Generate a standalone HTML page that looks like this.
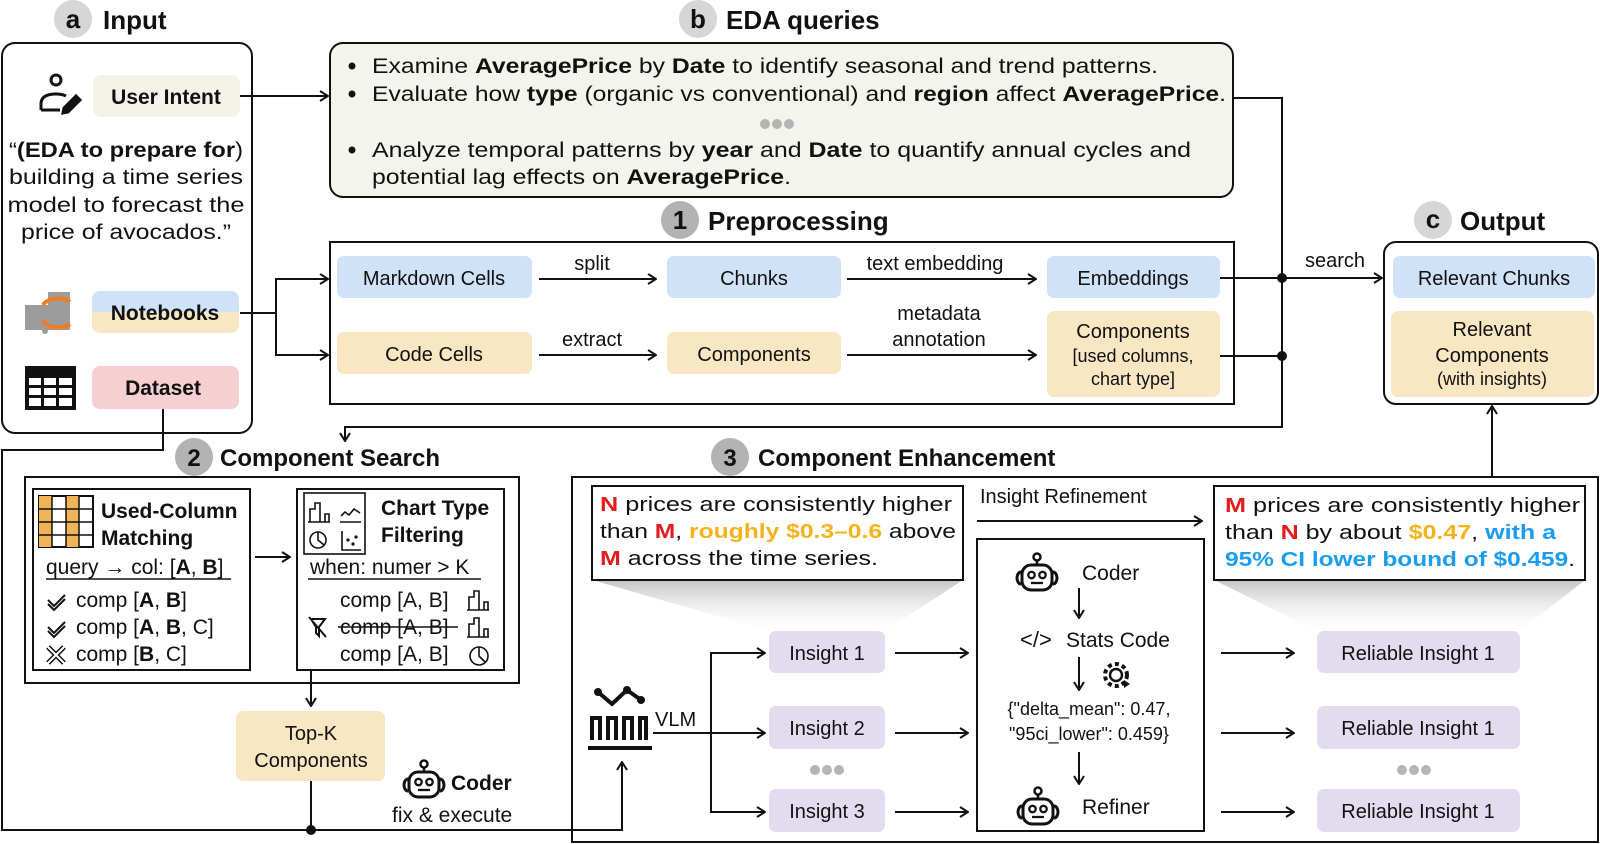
<!DOCTYPE html>
<html><head><meta charset="utf-8">
<style>
html,body{margin:0;padding:0;background:#fff;}
svg{display:block;font-family:"Liberation Sans",Arial,sans-serif;}
.b{font-weight:bold}
</style></head>
<body>
<svg width="1600" height="844" viewBox="0 0 1600 844" xmlns="http://www.w3.org/2000/svg">
<defs>
<marker id="ar" viewBox="0 0 10 12" refX="9" refY="6" markerWidth="10" markerHeight="12" markerUnits="userSpaceOnUse" orient="auto">
<path d="M1,1 L9,6 L1,11" fill="none" stroke="#111" stroke-width="2"/>
</marker>
<linearGradient id="sh" x1="0" y1="0" x2="0" y2="1">
<stop offset="0" stop-color="#c4c4c4"/><stop offset="1" stop-color="#fff" stop-opacity="0.2"/>
</linearGradient>
<linearGradient id="nb" x1="0" y1="0" x2="0" y2="1">
<stop offset="0.5" stop-color="#cfe2f8"/><stop offset="0.5" stop-color="#f9e6c3"/>
</linearGradient>
<g id="robot">
<circle cx="0" cy="-17" r="3.5" fill="none" stroke="#111" stroke-width="2.5"/>
<line x1="0" y1="-13" x2="0" y2="-9" stroke="#111" stroke-width="2.5"/>
<rect x="-15" y="-9" width="30" height="25" rx="9" fill="none" stroke="#111" stroke-width="3"/>
<path d="M-16,-2 a4,6 0 0,0 0,12 M16,-2 a4,6 0 0,1 0,12" fill="none" stroke="#111" stroke-width="3"/>
<circle cx="-5.5" cy="1" r="3.2" fill="none" stroke="#111" stroke-width="2.3"/>
<circle cx="5.5" cy="1" r="3.2" fill="none" stroke="#111" stroke-width="2.3"/>
<line x1="-6" y1="9" x2="6" y2="9" stroke="#111" stroke-width="2.3"/>
</g>
</defs>

<g stroke="#111" stroke-width="2" fill="none">
<rect x="2" y="43" width="250" height="390" rx="13"/>
<rect x="330" y="43" width="903" height="154" rx="13" fill="#f4f4ee"/>
<rect x="330" y="242" width="904" height="162"/>
<rect x="1384" y="242" width="214" height="162" rx="12"/>
<rect x="25" y="477" width="494" height="206"/>
<rect x="33" y="489" width="217" height="181"/>
<rect x="297" y="489" width="207" height="181"/>
<rect x="572" y="477" width="1026" height="365"/>
<rect x="977" y="539" width="227" height="292"/>
</g>

<polygon points="592,580 963,580 885,631 769,631" fill="url(#sh)"/>
<polygon points="1214,580 1585,580 1520,631 1317,631" fill="url(#sh)"/>
<rect x="592" y="486" width="371" height="94" fill="#fff" stroke="#111" stroke-width="2"/>
<rect x="1214" y="486" width="371" height="94" fill="#fff" stroke="#111" stroke-width="2"/>

<rect x="93" y="75" width="147" height="42" rx="8" fill="#f3f3ea"/>
<rect x="92" y="291" width="147" height="42" rx="8" fill="url(#nb)"/>
<rect x="92" y="366" width="147" height="43" rx="8" fill="#f5cfd2"/>
<rect x="337" y="256" width="195" height="42" rx="7" fill="#cfe2f8"/>
<rect x="667" y="256" width="174" height="42" rx="7" fill="#cfe2f8"/>
<rect x="1047" y="256" width="173" height="42" rx="7" fill="#cfe2f8"/>
<rect x="337" y="332" width="195" height="42" rx="7" fill="#f9e6c3"/>
<rect x="667" y="332" width="174" height="42" rx="7" fill="#f9e6c3"/>
<rect x="1047" y="311" width="173" height="86" rx="7" fill="#f9e6c3"/>
<rect x="1393" y="256" width="202" height="42" rx="7" fill="#cfe2f8"/>
<rect x="1391" y="311" width="203" height="86" rx="7" fill="#f9e6c3"/>
<rect x="236" y="711" width="149" height="70" rx="7" fill="#f9e6c3"/>
<g fill="#e3dcef">
<rect x="769" y="631" width="116" height="42" rx="7"/>
<rect x="769" y="706" width="116" height="43" rx="7"/>
<rect x="769" y="789" width="116" height="43" rx="7"/>
<rect x="1317" y="631" width="203" height="42" rx="7"/>
<rect x="1317" y="706" width="203" height="43" rx="7"/>
<rect x="1317" y="789" width="203" height="43" rx="7"/>
</g>

<g stroke="#111" stroke-width="2" fill="none">
<line x1="240" y1="96" x2="328" y2="96" marker-end="url(#ar)"/>
<polyline points="240,313 276,313 276,279 328,279" marker-end="url(#ar)"/>
<polyline points="276,313 276,355 328,355" marker-end="url(#ar)"/>
<line x1="539" y1="279" x2="656" y2="279" marker-end="url(#ar)"/>
<line x1="847" y1="279" x2="1036" y2="279" marker-end="url(#ar)"/>
<line x1="539" y1="355" x2="656" y2="355" marker-end="url(#ar)"/>
<line x1="847" y1="355" x2="1036" y2="355" marker-end="url(#ar)"/>
<polyline points="1233,98 1282,98 1282,427 345,427 345,441" marker-end="url(#ar)"/>
<line x1="1220" y1="278" x2="1282" y2="278"/>
<line x1="1220" y1="356" x2="1282" y2="356"/>
<line x1="1282" y1="278" x2="1382" y2="278" marker-end="url(#ar)"/>
<line x1="1492" y1="477" x2="1492" y2="406" marker-end="url(#ar)"/>
<polyline points="163,409 163,450 2,450 2,830 622,830 622,762" marker-end="url(#ar)"/>
<line x1="311" y1="781" x2="311" y2="830"/>
<line x1="311" y1="670" x2="311" y2="706" marker-end="url(#ar)"/>
<line x1="255" y1="557" x2="290" y2="557" marker-end="url(#ar)"/>
<line x1="653" y1="733" x2="765" y2="733" marker-end="url(#ar)"/>
<polyline points="711,812 711,653 765,653" marker-end="url(#ar)"/>
<polyline points="711,733 711,812 765,812" marker-end="url(#ar)"/>
<line x1="895" y1="653" x2="968" y2="653" marker-end="url(#ar)"/>
<line x1="895" y1="733" x2="968" y2="733" marker-end="url(#ar)"/>
<line x1="895" y1="812" x2="968" y2="812" marker-end="url(#ar)"/>
<line x1="1221" y1="653" x2="1294" y2="653" marker-end="url(#ar)"/>
<line x1="1221" y1="733" x2="1294" y2="733" marker-end="url(#ar)"/>
<line x1="1221" y1="812" x2="1294" y2="812" marker-end="url(#ar)"/>
<line x1="977" y1="521" x2="1202" y2="521" marker-end="url(#ar)"/>
<line x1="1079" y1="588" x2="1079" y2="618" marker-end="url(#ar)"/>
<line x1="1079" y1="657" x2="1079" y2="690" marker-end="url(#ar)"/>
<line x1="1079" y1="752" x2="1079" y2="784" marker-end="url(#ar)"/>
</g>
<circle cx="1282" cy="278" r="5" fill="#111"/>
<circle cx="1282" cy="356" r="5" fill="#111"/>
<circle cx="311" cy="830" r="5" fill="#111"/>

<circle cx="73" cy="19" r="19" fill="#d6d6d6"/>
<circle cx="698" cy="19" r="19" fill="#d6d6d6"/>
<circle cx="1433" cy="220" r="19" fill="#d6d6d6"/>
<circle cx="680" cy="220" r="19" fill="#b3b3b3"/>
<circle cx="194" cy="457" r="19" fill="#b3b3b3"/>
<circle cx="730" cy="457" r="19" fill="#b3b3b3"/>
<g font-weight="bold" font-size="26" fill="#111">
<text x="73" y="28" text-anchor="middle">a</text>
<text x="103" y="29">Input</text>
<text x="698" y="28" text-anchor="middle">b</text>
<text x="726" y="29">EDA queries</text>
<text x="680" y="229" text-anchor="middle">1</text>
<text x="708" y="230">Preprocessing</text>
<text x="1433" y="228" text-anchor="middle">c</text>
<text x="1460" y="230">Output</text>
<text x="194" y="466" text-anchor="middle" font-size="24">2</text>
<text x="220" y="466" font-size="24">Component Search</text>
<text x="730" y="466" text-anchor="middle" font-size="24">3</text>
<text x="758" y="466" font-size="24">Component Enhancement</text>
</g>

<g fill="#111" font-size="21">
<text x="166" y="104" text-anchor="middle" class="b">User Intent</text>
<text x="126" y="157" text-anchor="middle" textLength="234" lengthAdjust="spacingAndGlyphs">“<tspan class="b">(EDA to prepare for</tspan>)</text>
<text x="126" y="184" text-anchor="middle" textLength="234" lengthAdjust="spacingAndGlyphs">building a time series</text>
<text x="126" y="212" text-anchor="middle" textLength="237" lengthAdjust="spacingAndGlyphs">model to forecast the</text>
<text x="126" y="239" text-anchor="middle" textLength="210" lengthAdjust="spacingAndGlyphs">price of avocados.”</text>
<text x="165" y="320" text-anchor="middle" class="b">Notebooks</text>
<text x="163" y="395" text-anchor="middle" class="b">Dataset</text>
</g>
<g stroke="#111" stroke-width="3" fill="none">
<circle cx="56" cy="80" r="5"/>
<path d="M41,110 L41,104 Q41,94 56,94 Q62,94 66,96 M41,110 L60,110"/>
<path d="M64,108 L76,96 L80,100 L68,112 L63,113 Z" fill="#111"/>
</g>
<g>
<rect x="25" y="305" width="45" height="25" fill="#9c9c9c"/>
<rect x="48" y="292" width="22" height="15" fill="#9c9c9c"/>
<path d="M43,305 A16,10 0 0,1 70,302" stroke="#f07b22" stroke-width="4" fill="none"/>
<path d="M43,321 A16,10 0 0,0 70,324" stroke="#f07b22" stroke-width="4" fill="none"/>
<circle cx="45" cy="331" r="3" fill="#9c9c9c"/>
</g>
<g>
<rect x="25" y="366" width="51" height="44" fill="#111"/>
<g fill="#fff">
<rect x="29" y="378" width="12" height="7"/><rect x="44" y="378" width="12" height="7"/><rect x="59" y="378" width="13" height="7"/>
<rect x="29" y="388" width="12" height="7"/><rect x="44" y="388" width="12" height="7"/><rect x="59" y="388" width="13" height="7"/>
<rect x="29" y="398" width="12" height="8"/><rect x="44" y="398" width="12" height="8"/><rect x="59" y="398" width="13" height="8"/>
</g></g>

<g fill="#111" font-size="21">
<circle cx="352" cy="66" r="3.5"/><circle cx="352" cy="94" r="3.5"/><circle cx="352" cy="150" r="3.5"/>
<text x="372" y="73" textLength="786" lengthAdjust="spacingAndGlyphs">Examine <tspan class="b">AveragePrice</tspan> by <tspan class="b">Date</tspan> to identify seasonal and trend patterns.</text>
<text x="372" y="101" textLength="854" lengthAdjust="spacingAndGlyphs">Evaluate how <tspan class="b">type</tspan> (organic vs conventional) and <tspan class="b">region</tspan> affect <tspan class="b">AveragePrice</tspan>.</text>
<text x="372" y="157" textLength="819" lengthAdjust="spacingAndGlyphs">Analyze temporal patterns by <tspan class="b">year</tspan> and <tspan class="b">Date</tspan> to quantify annual cycles and</text>
<text x="372" y="184" textLength="419" lengthAdjust="spacingAndGlyphs">potential lag effects on <tspan class="b">AveragePrice</tspan>.</text>
</g>
<g fill="#b5b5b5">
<circle cx="765" cy="124" r="5"/><circle cx="777" cy="124" r="5"/><circle cx="789" cy="124" r="5"/>
<circle cx="815" cy="770" r="5"/><circle cx="827" cy="770" r="5"/><circle cx="839" cy="770" r="5"/>
<circle cx="1402" cy="770" r="5"/><circle cx="1414" cy="770" r="5"/><circle cx="1426" cy="770" r="5"/>
</g>

<g fill="#111" font-size="20" text-anchor="middle">
<text x="434" y="285">Markdown Cells</text>
<text x="754" y="285">Chunks</text>
<text x="1133" y="285">Embeddings</text>
<text x="434" y="361">Code Cells</text>
<text x="754" y="361">Components</text>
<text x="1133" y="338">Components</text>
<text x="1133" y="362" font-size="18">[used columns,</text>
<text x="1133" y="385" font-size="18">chart type]</text>
<text x="592" y="270">split</text>
<text x="935" y="270">text embedding</text>
<text x="592" y="346">extract</text>
<text x="939" y="320">metadata</text>
<text x="939" y="346">annotation</text>
<text x="1335" y="267">search</text>
<text x="1494" y="285">Relevant Chunks</text>
<text x="1492" y="336">Relevant</text>
<text x="1492" y="362">Components</text>
<text x="1492" y="385" font-size="18">(with insights)</text>
<text x="311" y="740">Top-K</text>
<text x="311" y="767">Components</text>
</g>

<g>
<rect x="39" y="496" width="54" height="51" fill="#fff" stroke="#111" stroke-width="2"/>
<rect x="39" y="496" width="13" height="51" fill="#eeb457"/>
<rect x="66" y="496" width="13" height="51" fill="#eeb457"/>
<g stroke="#111" stroke-width="1.5">
<line x1="52" y1="496" x2="52" y2="547"/><line x1="66" y1="496" x2="66" y2="547"/><line x1="79" y1="496" x2="79" y2="547"/>
<line x1="39" y1="509" x2="93" y2="509"/><line x1="39" y1="522" x2="93" y2="522"/><line x1="39" y1="535" x2="93" y2="535"/>
</g>
</g>
<g fill="#111" font-size="21">
<text x="101" y="518" class="b">Used-Column</text>
<text x="101" y="545" class="b">Matching</text>
<text x="46" y="574">query → col: [<tspan class="b">A</tspan>, <tspan class="b">B</tspan>]</text>
<text x="76" y="607">comp [<tspan class="b">A</tspan>, <tspan class="b">B</tspan>]</text>
<text x="76" y="634">comp [<tspan class="b">A</tspan>, <tspan class="b">B</tspan>, C]</text>
<text x="76" y="661">comp [<tspan class="b">B</tspan>, C]</text>
<text x="381" y="515" class="b">Chart Type</text>
<text x="381" y="542" class="b">Filtering</text>
<text x="310" y="574">when: numer &gt; K</text>
<text x="340" y="607">comp [A, B]</text>
<text x="340" y="634">comp [A, B]</text>
<text x="340" y="661">comp [A, B]</text>
</g>
<g stroke="#111" stroke-width="1.6" fill="none">
<line x1="46" y1="579" x2="231" y2="579"/>
<line x1="308" y1="579" x2="481" y2="579"/>
<line x1="338" y1="627" x2="458" y2="627"/>
<path d="M48,600 l6,6 l11,-11 M48,604 l6,6 l11,-11" stroke-width="2"/>
<path d="M48,627 l6,6 l11,-11 M48,631 l6,6 l11,-11" stroke-width="2"/>
<path d="M48,647 l16,16 M64,647 l-16,16" stroke-width="5"/>
<path d="M48,647 l16,16 M64,647 l-16,16" stroke="#fff" stroke-width="2"/>
<rect x="304" y="493" width="61" height="61"/>
<path d="M310,522 v-13 h5 v-6 h5 v19 h5 v-8 h4 v8 M308,522 h22"/>
<path d="M341,516 l4,-4 l4,3 l5,-6 l6,4 M340,522 h21"/>
<circle cx="318" cy="540" r="8"/><path d="M318,532 v8 l6,5"/>
<path d="M342,531 v19 h19"/><circle cx="348" cy="540" r="0.8"/><circle cx="353" cy="544" r="0.8"/><circle cx="356" cy="537" r="0.8"/>
<path d="M469,610 v-13 h5 v-6 h5 v19 h5 v-8 h4 v8 M467,610 h22"/>
<path d="M469,637 v-13 h5 v-6 h5 v19 h5 v-8 h4 v8 M467,637 h22"/>
<circle cx="479" cy="656" r="9"/><path d="M479,647 v9 l6,6"/>
<path d="M311,619 h14 l-6,8 v9 l-3,-3 v-6 z M309,617 l17,20" stroke-width="2"/>
</g>
<g transform="translate(424,781)"><use href="#robot"/></g>
<g fill="#111" font-size="21">
<text x="451" y="790" class="b">Coder</text>
<text x="392" y="822">fix &amp; execute</text>
</g>

<g stroke="#111" fill="none" stroke-width="4">
<polyline points="598,692 612,704 627,690 641,700"/>
<path d="M592,740 v-22 h8 v22 M608,740 v-22 h8 v22 M624,740 v-22 h8 v22 M640,740 v-22 h6 v22"/>
<line x1="588" y1="748" x2="652" y2="748"/>
</g>
<g fill="#111"><circle cx="598" cy="692" r="4"/><circle cx="627" cy="690" r="4"/><circle cx="641" cy="700" r="4"/></g>
<text x="655" y="726" font-size="20" fill="#111">VLM</text>

<g fill="#111" font-size="20" text-anchor="middle">
<text x="827" y="660">Insight 1</text>
<text x="827" y="735">Insight 2</text>
<text x="827" y="818">Insight 3</text>
<text x="1418" y="660">Reliable Insight 1</text>
<text x="1418" y="735">Reliable Insight 1</text>
<text x="1418" y="818">Reliable Insight 1</text>
</g>
<text x="980" y="503" font-size="20" fill="#111">Insight Refinement</text>

<g font-size="20" fill="#111">
<text x="600" y="511" textLength="352" lengthAdjust="spacingAndGlyphs"><tspan class="b" fill="#e31c1c">N</tspan> prices are consistently higher</text>
<text x="600" y="538" textLength="356" lengthAdjust="spacingAndGlyphs">than <tspan class="b" fill="#e31c1c">M</tspan>, <tspan class="b" fill="#f5b21b">roughly $0.3–0.6</tspan> above</text>
<text x="600" y="565" textLength="278" lengthAdjust="spacingAndGlyphs"><tspan class="b" fill="#e31c1c">M</tspan> across the time series.</text>
<text x="1225" y="512" textLength="355" lengthAdjust="spacingAndGlyphs"><tspan class="b" fill="#e31c1c">M</tspan> prices are consistently higher</text>
<text x="1225" y="539" textLength="331" lengthAdjust="spacingAndGlyphs">than <tspan class="b" fill="#e31c1c">N</tspan> by about <tspan class="b" fill="#f5b21b">$0.47</tspan>, <tspan class="b" fill="#1a9cf0">with a</tspan></text>
<text x="1225" y="566" textLength="350" lengthAdjust="spacingAndGlyphs"><tspan class="b" fill="#1a9cf0">95% CI lower bound of $0.459</tspan>.</text>
</g>

<g transform="translate(1037,574)"><use href="#robot"/></g>
<g transform="translate(1038,808)"><use href="#robot"/></g>
<g fill="#111" font-size="21">
<text x="1082" y="580">Coder</text>
<text x="1020" y="647" font-size="22">&lt;/&gt;</text>
<text x="1066" y="647">Stats Code</text>
<text x="1082" y="814">Refiner</text>
</g>
<text x="1089" y="715" font-size="18" fill="#111" text-anchor="middle">{"delta_mean": 0.47,</text>
<text x="1089" y="740" font-size="18" fill="#111" text-anchor="middle">"95ci_lower": 0.459}</text>
<g stroke="#111" stroke-width="2.5" fill="none">
<circle cx="1116" cy="675" r="6"/>
<circle cx="1116" cy="675" r="11" stroke-dasharray="4 3.2" stroke-width="4"/>
</g>
<path d="M1124,680 l6,4 l-6,4 z" fill="#111"/>
</svg>
</body></html>
